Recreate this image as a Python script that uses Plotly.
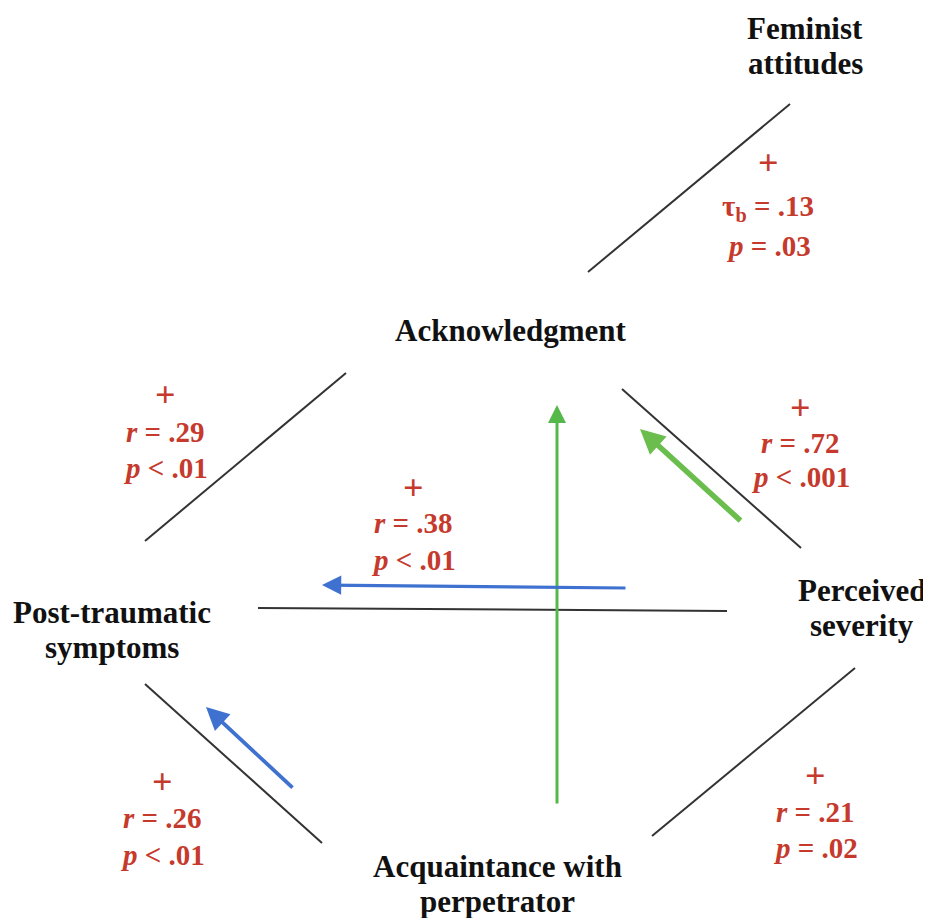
import plotly.graph_objects as go

# ---- data ----
node_names = [["Feminist", "attitudes"], ["Acknowledgment"], ["Post-traumatic", "symptoms"],
              ["Perceived", "severity"], ["Acquaintance with", "perpetrator"]]
edge_signs = ["+", "+", "+", "+", "+", "+"]
edge_stats = ["τ<sub>b</sub> = .13", "<i>r</i> = .29", "<i>r</i> = .72",
              "<i>r</i> = .38", "<i>r</i> = .26", "<i>r</i> = .21"]
edge_pvals = ["<i>p</i> = .03", "<i>p</i> < .01", "<i>p</i> < .001",
              "<i>p</i> < .01", "<i>p</i> < .01", "<i>p</i> = .02"]

# ---- layout (pixel coordinates of the diagram) ----
node_xy = [(805, 28), (510, 330), (112, 612), (862, 590), (497, 866)]  # first-line centre
node_step = 35
label_xy = [(768, 163), (165, 395), (800, 408), (413, 488), (162, 782), (815, 776)]  # "+" centre
label_steps = [(45, 83), (37, 73), (35, 69), (35, 72), (36, 73), (36, 72)]
link_lines = [((588, 272), (790, 104)), ((145, 541), (346, 373)), ((622, 389), (801, 548)),
              ((258, 608), (727, 611)), ((145, 684), (322, 843)), ((652, 836), (855, 668))]
arrows = [  # (tail, head, color, width)
    ((557, 805), (557, 405), "#55B84A", 3),
    ((742, 522), (640, 429), "#6BBE4E", 5.5),
    ((627, 588), (322, 585), "#3F72D0", 3.2),
    ((294, 789), (206, 707), "#3F72D0", 3.8),
]

RED = "#C53A2C"
FONT = "Liberation Serif, Times New Roman, serif"
OFF = 8  # page body margin

fig = go.Figure()
for (a, b) in link_lines:
    fig.add_trace(go.Scatter(x=[a[0], b[0]], y=[a[1], b[1]], mode="lines",
                             line=dict(color="#333333", width=2), hoverinfo="skip",
                             showlegend=False))

annotations = []
for lines, (x, y) in zip(node_names, node_xy):
    for i, ln in enumerate(lines):
        annotations.append(dict(x=x, y=y + i * node_step, xref="x", yref="y",
                                text="<b>" + ln + "</b>", showarrow=False,
                                xanchor="center", yanchor="middle",
                                font=dict(family=FONT, size=31, color="#111111")))
for s, st, pv, (x, y), (d1, d2) in zip(edge_signs, edge_stats, edge_pvals, label_xy, label_steps):
    for txt, dy, fs in ((s, 0, 36), (st, d1, 29), (pv, d2, 29)):
        annotations.append(dict(x=x, y=y + dy, xref="x", yref="y", text="<b>" + txt + "</b>",
                                showarrow=False, xanchor="center", yanchor="middle",
                                font=dict(family=FONT, size=fs, color=RED)))
for (t, h, c, w) in arrows:
    annotations.append(dict(x=h[0], y=h[1], ax=t[0], ay=t[1], xref="x", yref="y",
                            axref="x", ayref="y", showarrow=True, text="",
                            arrowhead=2, arrowsize=1.2 if w < 4 else 0.9,
                            arrowwidth=w, arrowcolor=c, standoff=0, startstandoff=0))

fig.update_layout(
    width=931 - OFF, height=918 - OFF, margin=dict(l=0, r=0, t=0, b=0),
    paper_bgcolor="white", plot_bgcolor="white",
    xaxis=dict(range=[OFF, 931], visible=False, fixedrange=True),
    yaxis=dict(range=[918, OFF], visible=False, fixedrange=True),
    annotations=annotations, showlegend=False,
)
fig.write_html("out.html")
